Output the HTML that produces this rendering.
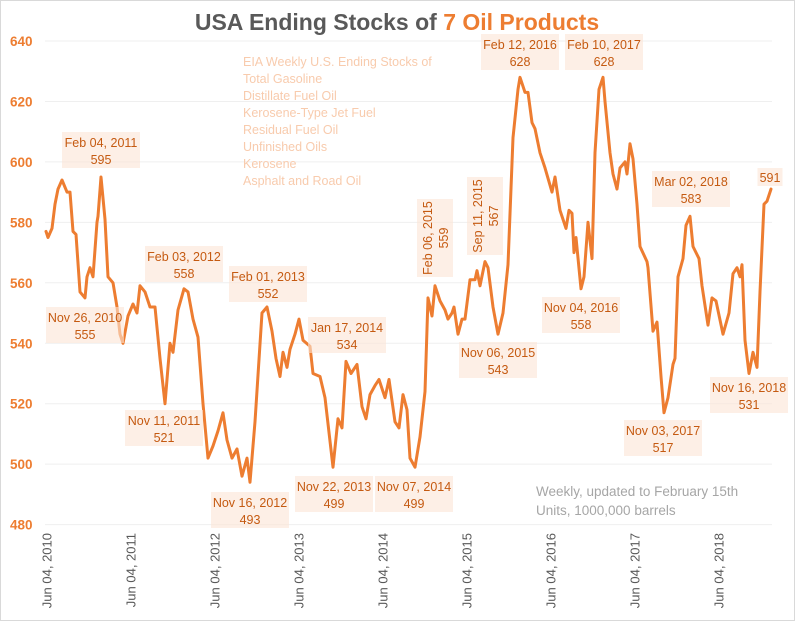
<!DOCTYPE html>
<html><head><meta charset="utf-8">
<style>
html,body{margin:0;padding:0;background:#fff;}
#wrap{position:relative;width:795px;height:621px;overflow:hidden;font-family:"Liberation Sans",sans-serif;}
svg text{font-family:"Liberation Sans",sans-serif;}
</style></head>
<body>
<div id="wrap">
<svg id="chart" width="795" height="621" viewBox="0 0 795 621">
<rect x="0.5" y="0.5" width="794" height="620" fill="#fff" stroke="#d9d9d9"/>
<text x="397" y="30" text-anchor="middle" font-size="23" font-weight="bold"><tspan fill="#595959">USA Ending Stocks of </tspan><tspan fill="#ed7d31">7 Oil Products</tspan></text>
<g id="grid"></g>
<g id="yticks"></g>
<g id="xticks"></g>
<g id="legend" font-size="12.5" fill="#f8cbad">
<text x="243" y="66">EIA Weekly U.S. Ending Stocks of</text>
<text x="243" y="83">Total Gasoline</text>
<text x="243" y="100">Distillate Fuel Oil</text>
<text x="243" y="117">Kerosene-Type Jet Fuel</text>
<text x="243" y="134">Residual Fuel Oil</text>
<text x="243" y="151">Unfinished Oils</text>
<text x="243" y="168">Kerosene</text>
<text x="243" y="185">Asphalt and Road Oil</text>
</g>
<g id="series"></g>
<g id="annots"></g>
<text x="536" y="496" font-size="13.5" fill="#a6a6a6">Weekly, updated to February 15th</text>
<text x="536" y="515" font-size="13.5" fill="#a6a6a6">Units, 1000,000 barrels</text>
</svg>
</div>
<script>
// years since Jun 04, 2010
const times = [0.036,0.060,0.107,0.143,0.179,0.226,0.286,0.321,0.357,0.393,0.440,0.500,0.524,0.560,0.595,0.643,0.655,0.690,0.738,0.774,0.833,0.881,0.917,0.952,1.012,1.071,1.119,1.155,1.214,1.274,1.333,1.393,1.452,1.512,1.548,1.607,1.679,1.726,1.786,1.845,1.905,1.964,2.024,2.083,2.143,2.190,2.250,2.310,2.369,2.429,2.464,2.524,2.607,2.667,2.726,2.774,2.821,2.857,2.905,2.940,3.000,3.048,3.095,3.179,3.214,3.298,3.357,3.452,3.512,3.560,3.607,3.667,3.738,3.798,3.845,3.893,3.952,4.000,4.071,4.119,4.190,4.238,4.286,4.333,4.369,4.429,4.488,4.548,4.583,4.631,4.667,4.726,4.786,4.821,4.869,4.893,4.940,4.988,5.024,5.083,5.143,5.167,5.202,5.262,5.298,5.357,5.417,5.476,5.536,5.595,5.655,5.679,5.738,5.774,5.821,5.857,5.917,5.976,6.060,6.095,6.155,6.226,6.262,6.298,6.321,6.345,6.405,6.440,6.488,6.536,6.571,6.619,6.667,6.690,6.750,6.786,6.833,6.869,6.929,6.952,6.988,7.024,7.071,7.107,7.190,7.202,7.262,7.310,7.357,7.393,7.440,7.500,7.524,7.560,7.619,7.655,7.702,7.738,7.810,7.845,7.917,7.964,8.012,8.095,8.167,8.214,8.262,8.298,8.321,8.357,8.405,8.452,8.500,8.536,8.583,8.619,8.667];
const stocks = [577,575,578,586,591,594,590,590,577,576,557,555,562,565,562,580,582,595,581,562,560,552,543,540,549,553,550,559,557,552,552,535,520,540,537,551,558,557,548,542,520,502,506,511,517,508,502,505,496,502,494,514,550,552,544,535,529,537,532,538,543,548,541,539,530,529,522,499,515,512,534,530,533,519,515,523,526,528,522,528,514,512,523,518,502,499,509,524,555,549,559,554,551,548,550,552,543,548,548,561,561,564,559,567,565,552,543,550,566,608,624,628,623,623,613,611,603,598,590,595,584,578,584,583,570,575,558,562,580,568,603,624,628,620,603,596,591,598,600,596,606,601,586,572,567,565,544,547,529,517,522,533,535,562,568,579,582,572,568,559,546,555,554,543,550,563,565,562,566,541,530,537,532,557,586,587,591];
const yTicks = [480,500,520,540,560,580,600,620,640];
const xTickYears = [0,1,2,3,4,5,6,7,8];
const xTickLabels = ["Jun 04, 2010","Jun 04, 2011","Jun 04, 2012","Jun 04, 2013","Jun 04, 2014","Jun 04, 2015","Jun 04, 2016","Jun 04, 2017","Jun 04, 2018"];
const annDates = ["Feb 04, 2011","Nov 26, 2010","Feb 03, 2012","Feb 01, 2013","Nov 11, 2011","Nov 16, 2012","Jan 17, 2014","Nov 22, 2013","Nov 07, 2014","Feb 06, 2015","Sep 11, 2015","Nov 06, 2015","Feb 12, 2016","Feb 10, 2017","Nov 04, 2016","Mar 02, 2018","Nov 03, 2017","Nov 16, 2018",""];
const annValues = ["595","555","558","552","521","493","534","499","499","559","567","543","628","628","558","583","517","531","591"];
const annLayout = [[101,150,0],[85,325,0],[184,264,0],[268,284,0],[164,428,0],[250,510,0],[347,335,0],[334,494,0],[414,494,0],[435,238,1],[485,216,1],[498,360,0],[520,52,0],[604,52,0],[581,315,0],[691,189,0],[663,438,0],[749,395,0],[770,177,0]];

const NS="http://www.w3.org/2000/svg";
function xS(t){return 43+84*t;}
function yS(v){return 41+(640-v)*60.45/20;}
function mk(tag,attrs,parent){const e=document.createElementNS(NS,tag);for(const k in attrs)e.setAttribute(k,attrs[k]);parent.appendChild(e);return e;}

const grid=document.getElementById('grid'), yt=document.getElementById('yticks'), xt=document.getElementById('xticks');
yTicks.forEach(v=>{
  const l=mk('line',{x1:45,x2:772,y1:yS(v),y2:yS(v),stroke:'#efefef','stroke-width':1},grid);
  
  
  const t=mk('text',{x:10,y:yS(v)+5,'font-size':13.5,'font-weight':'bold',fill:'#ed7d31'},yt);
  t.textContent=v;
  
  
});
xTickYears.forEach((k,i)=>{
  const x=xS(k)+4+4.5;
  const t=mk('text',{x:0,y:0,'font-size':13,fill:'#595959','text-anchor':'end',transform:'translate('+x+',533) rotate(-90)'},xt);
  t.textContent=xTickLabels[i];
  
  
});
const pts=times.map((t,i)=>xS(t).toFixed(1)+','+yS(stocks[i]).toFixed(1)).join(' ');
const line=mk('polyline',{points:pts,fill:'none',stroke:'#ed7d31','stroke-width':3,'stroke-linejoin':'round','stroke-linecap':'round'},document.getElementById('series'));



const ag=document.getElementById('annots');
annLayout.forEach((p,i)=>{
  const g=mk('g',{},ag);
  
  
  const [cx,cy,rot]=p;
  const hasDate=annDates[i]!=='';
  const w=hasDate?78:25, h=hasDate?36:18;
  if(rot){
    mk('rect',{x:cx-h/2,y:cy-w/2,width:h,height:w,fill:'#fbe5d6','fill-opacity':0.6},g);
    const t1=mk('text',{transform:'translate('+(cx-3)+','+cy+') rotate(-90)','text-anchor':'middle','font-size':12.5,fill:'#c55a11'},g);t1.textContent=annDates[i];
    const t2=mk('text',{transform:'translate('+(cx+13)+','+cy+') rotate(-90)','text-anchor':'middle','font-size':12.5,fill:'#c55a11'},g);t2.textContent=annValues[i];
  } else {
    mk('rect',{x:cx-w/2,y:cy-h/2,width:w,height:h,fill:'#fbe5d6','fill-opacity':0.6},g);
    if(hasDate){
      const t1=mk('text',{x:cx,y:cy-3,'text-anchor':'middle','font-size':12.5,fill:'#c55a11'},g);t1.textContent=annDates[i];
      const t2=mk('text',{x:cx,y:cy+14,'text-anchor':'middle','font-size':12.5,fill:'#c55a11'},g);t2.textContent=annValues[i];
    } else {
      const t2=mk('text',{x:cx,y:cy+5,'text-anchor':'middle','font-size':12.5,fill:'#c55a11'},g);t2.textContent=annValues[i];
    }
  }
});
</script>
</body></html>
